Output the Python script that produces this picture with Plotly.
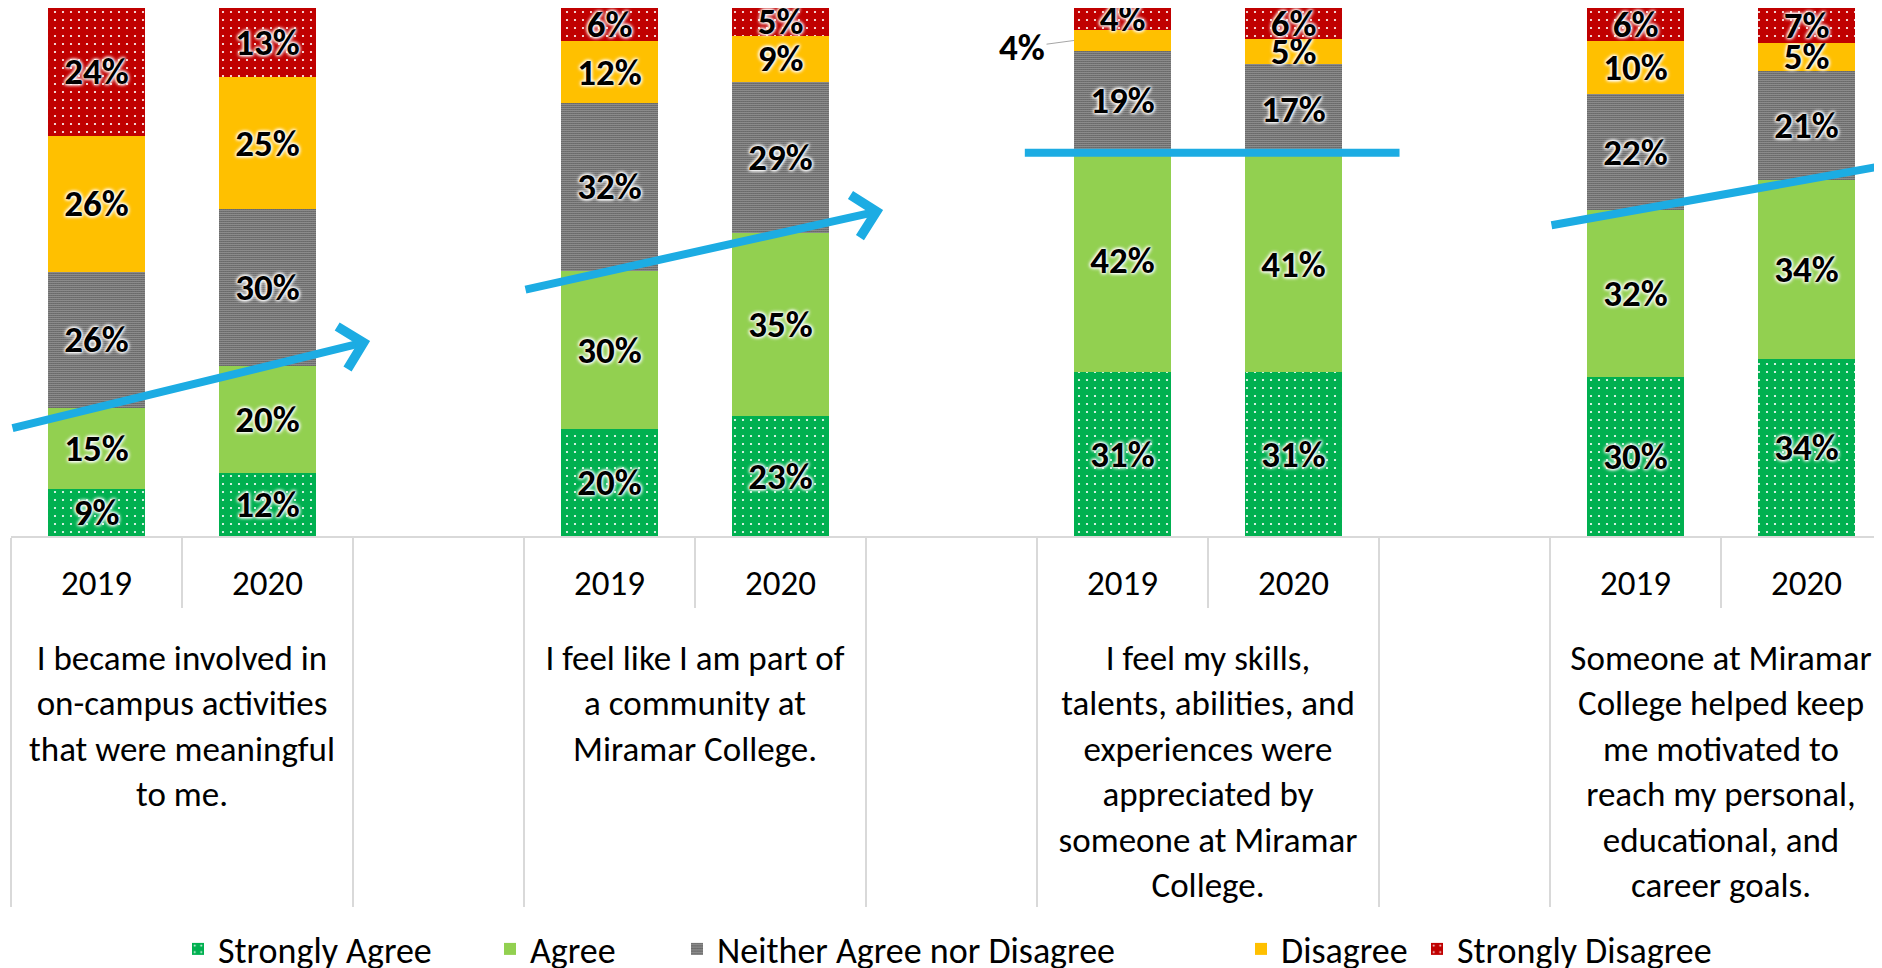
import plotly.graph_objects as go

FONT = "Calibri, Carlito, Lato, sans-serif"

QUESTIONS = [
    'I became involved in<br>on-campus activities<br>that were meaningful<br>to me.',
    'I feel like I am part of<br>a community at<br>Miramar College.',
    'I feel my skills,<br>talents, abilities, and<br>experiences were<br>appreciated by<br>someone at Miramar<br>College.',
    'Someone at Miramar<br>College helped keep<br>me motivated to<br>reach my personal,<br>educational, and<br>career goals.',
]
YEARS = ['2019', '2020']

# share of respondents (%), one [2019, 2020] pair per question
strongly_agree = [[8.9, 11.9], [20.2, 22.7], [31.0, 31.0], [30.1, 33.6]]
agree = [[15.4, 20.3], [30.0, 34.7], [42.2, 41.0], [31.6, 33.9]]
neither = [[25.7, 29.7], [31.8, 28.6], [18.6, 17.4], [22.0, 20.6]]
disagree = [[25.8, 25.0], [11.7, 8.7], [4.1, 4.8], [10.0, 5.3]]
strongly_disagree = [[24.2, 13.1], [6.3, 5.3], [4.1, 5.8], [6.3, 6.6]]

# direction of the Strongly Agree + Agree trend arrow drawn over each question
TREND = ['up', 'up', 'flat', 'up']

BLUE = '#1CACE3'
GRID = '#D9D9D9'
BAR_GAP = 0.433

# the page body adds an 8px margin around the figure
PAGE_PAD = 8
plot_left, plot_top = 11 - PAGE_PAD, 8 - PAGE_PAD
plot_w, plot_h = 1871, 528
FIG_W, FIG_H = 1882, 968

# multicategory x: question / year, with an empty slot between questions
# (the year labels get a blank second line so the question text sits lower)
outer, inner, slot_of = [], [], []
for i, q in enumerate(QUESTIONS):
    for y in YEARS:
        outer.append(q)
        inner.append(y + '<br>\u00a0')
        slot_of.append((i, YEARS.index(y)))
    if i < len(QUESTIONS) - 1:
        outer.append(' ' * (i + 1))
        inner.append(' ')
        slot_of.append(None)


def spread(values):
    return [None if s is None else values[s[0]][s[1]] for s in slot_of]


dots = dict(shape='.', fgcolor='white', size=8, solidity=0.06)
series = [
    ('Strongly Agree', strongly_agree, '#00B050', dict(bgcolor='#00B050', **dots)),
    ('Agree', agree, '#92D050', None),
    ('Neither Agree nor Disagree', neither, '#FFFFFF', dict(shape='.', fgcolor='black', bgcolor='white', size=2, solidity=0.6)),
    ('Disagree', disagree, '#FFC000', None),
    ('Strongly Disagree', strongly_disagree, '#C00000', dict(bgcolor='#C00000', **dots)),
]

# labels pulled out of the bar with a leader line: (series name, question, year)
OUTSIDE_LABELS = [('Disagree', 2, 0)]

# left edge of each legend entry, in figure pixels
legend_x_px = [170, 482, 669, 1233, 1409]
legend_y_px = 949 - PAGE_PAD

fig = go.Figure()
for k, (name, vals, color, pattern) in enumerate(series):
    ys = spread(vals)
    text = []
    for s, v in zip(slot_of, ys):
        if v is None or (s is not None and (name, s[0], s[1]) in OUTSIDE_LABELS):
            text.append('')
        else:
            text.append(f'{v:.0f}%')
    marker = dict(color=color, line=dict(width=0))
    if pattern:
        marker['pattern'] = dict(fillmode='replace', **pattern)
    lg = 'legend' if k == 0 else f'legend{k + 1}'
    fig.add_trace(go.Bar(
        x=[outer, inner], y=ys, name=name, marker=marker, legend=lg,
        text=text, texttemplate='%{text}', textposition='inside', insidetextanchor='middle',
        constraintext='none', textangle=0, cliponaxis=False,
        textfont=dict(family=FONT, size=37, color='black', weight='bold',
                      shadow='0px 0px 3px #fff, 0px 0px 3px #fff, 0px 0px 4px #fff, 0px 0px 4px #fff'),
        hovertemplate='%{y:.1f}%<extra>' + name + '</extra>',
    ))

annotations = []
# trend arrows
for i, trend in enumerate(TREND):
    top19 = strongly_agree[i][0] + agree[i][0]
    top20 = strongly_agree[i][1] + agree[i][1]
    x19 = 3 * i
    if trend == 'flat':
        y0 = y1 = (top19 + top20) / 2
        t0, t1, head = -0.58, 1.62, 0
    else:
        t0, t1, head = -0.5, 1.6, 4
        y0 = top19 + (top20 - top19) * t0
        y1 = top19 + (top20 - top19) * t1
    annotations.append(dict(
        x=x19 + t1, y=y1, ax=x19 + t0, ay=y0, xref='x', yref='y', axref='x', ayref='y',
        text='', showarrow=True, arrowhead=head, arrowwidth=8, arrowsize=1.05, arrowcolor=BLUE,
    ))

# labels too small to sit inside their segment
lookup = {name: vals for name, vals, _, _ in series}
order = [s[0] for s in series]
for name, qi, yi in OUTSIDE_LABELS:
    below = sum(lookup[n][qi][yi] for n in order[:order.index(name)])
    v = lookup[name][qi][yi]
    annotations.append(dict(
        x=3 * qi + yi - (1 - BAR_GAP) / 2, y=below + v / 2, xref='x', yref='y',
        text=f'<b>{v:.0f}%</b>', showarrow=True, arrowhead=0, arrowwidth=1, arrowcolor='#A6A6A6',
        ax=-52, ay=7, font=dict(family=FONT, size=37, color='black'),
    ))

layout_legends = {}
for k, xpx in enumerate(legend_x_px):
    key = 'legend' if k == 0 else f'legend{k + 1}'
    layout_legends[key] = dict(
        x=(xpx - plot_left) / plot_w, xanchor='left',
        y=(plot_top + plot_h - legend_y_px) / plot_h, yanchor='middle',
        orientation='h', bgcolor='rgba(0,0,0,0)', borderwidth=0,
        font=dict(family=FONT, size=36, color='black'),
    )

fig.update_layout(
    width=FIG_W, height=FIG_H,
    margin=dict(l=plot_left, r=FIG_W - plot_left - plot_w, t=plot_top, b=FIG_H - plot_top - plot_h,
                autoexpand=False),
    paper_bgcolor='white', plot_bgcolor='white',
    barmode='stack', bargap=BAR_GAP,
    showlegend=True,
    annotations=annotations,
    xaxis=dict(
        type='multicategory', range=[-0.5, -0.5 + plot_w / 171],
        showline=True, linecolor=GRID, linewidth=2, showgrid=False,
        ticks='outside', ticklen=70, tickcolor=GRID, tickwidth=2, tickson='boundaries',
        showdividers=True, dividercolor=GRID, dividerwidth=2,
        tickfont=dict(family=FONT, size=35, color='black'),
        ticklabelstandoff=15,
    ),
    yaxis=dict(range=[0, 100], visible=False, showgrid=False, zeroline=False),
    **layout_legends,
)

fig.write_html('out.html')
